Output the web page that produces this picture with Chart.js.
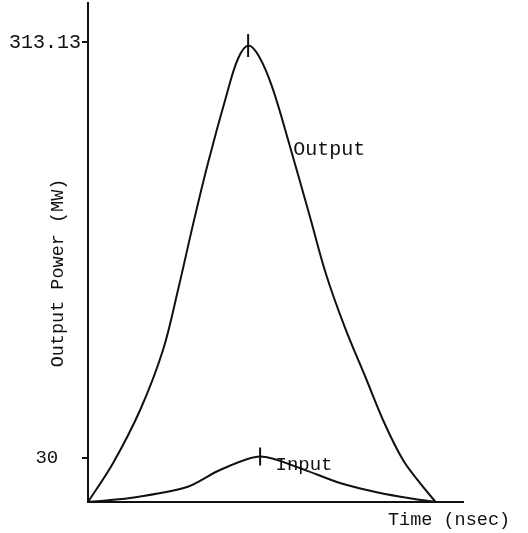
<!DOCTYPE html>
<html>
<head>
<meta charset="utf-8">
<script src="https://cdn.jsdelivr.net/npm/chart.js@4/dist/chart.umd.min.js"></script>
<style>
  html, body { margin: 0; padding: 0; background: #fff; }
  #wrap { width: 528px; height: 533px; }
</style>
</head>
<body>
<div id="wrap"><canvas id="c" width="528" height="533"></canvas></div>
<script>
// ---- data (time in arbitrary units, power in MW) ----
const outputTime  = [0, 0.67, 1.39, 2.0, 2.4, 2.8, 3.2, 3.71, 4.0, 4.27, 4.55, 4.91, 5.39, 5.92, 6.35, 6.85, 7.4, 7.9, 8.4, 8.85, 9.27];
const outputPower = [0, 26.6, 62.7, 103.6, 144.5, 189.0, 231.0, 278.7, 302.0, 311.0, 304.0, 282.8, 241.9, 194.2, 155.0, 119.0, 85.0, 54.0, 28.6, 13.0, 0];
const inputTime   = [0, 1.12, 2.64, 3.52, 4.59, 5.65, 6.72, 7.79, 8.67, 9.27];
const inputPower  = [0, 2.7, 10.2, 21.8, 31.0, 23.1, 12.9, 6.1, 2.2, 0];
const yTickValues = [30, 313.13];
const yTickLabels = ['30', '313.13'];
const seriesNames = ['Output', 'Input'];
const axisTitles  = { x: 'Time (nsec)', y: 'Output Power (MW)' };

// ---- build ----
const INK = '#111';
const MONO = '"Liberation Mono", "DejaVu Sans Mono", monospace';
const toXY = (xs, ys) => xs.map((x, i) => ({ x, y: ys[i] }));
const peakOf = (xs, ys) => { const i = ys.indexOf(Math.max(...ys)); return { x: xs[i], y: ys[i] }; };

const labelPlugin = {
  id: 'labels',
  afterDraw(chart) {
    const { ctx, chartArea, scales } = chart;
    const xs = scales.x, ys = scales.y;
    ctx.save();
    ctx.fillStyle = INK;
    ctx.textBaseline = 'middle';
    // series labels
    ctx.textAlign = 'left';
    ctx.font = '20px ' + MONO;
    ctx.fillText(seriesNames[0], xs.getPixelForValue(5.47), ys.getPixelForValue(240));
    ctx.font = '19px ' + MONO;
    ctx.fillText(seriesNames[1], xs.getPixelForValue(5.0), ys.getPixelForValue(25));
    // x axis title
    ctx.font = '18.5px ' + MONO;
    ctx.fillText(axisTitles.x, chartArea.right - 75, chartArea.bottom + 18);
    // y axis title
    ctx.translate(58, 273);
    ctx.rotate(-Math.PI / 2);
    ctx.textAlign = 'center';
    ctx.fillText(axisTitles.y, 0, 0);
    ctx.restore();
  }
};

new Chart(document.getElementById('c'), {
  type: 'scatter',
  data: {
    datasets: [
      {
        label: seriesNames[0],
        data: toXY(outputTime, outputPower),
        showLine: true,
        borderColor: INK,
        borderWidth: 2,
        pointRadius: 0,
        tension: 0.35
      },
      {
        label: seriesNames[1],
        data: toXY(inputTime, inputPower),
        showLine: true,
        borderColor: INK,
        borderWidth: 2,
        pointRadius: 0,
        tension: 0.3
      },
      {
        label: 'peaks',
        data: [peakOf(outputTime, outputPower), peakOf(inputTime, inputPower)],
        showLine: false,
        pointStyle: 'line',
        rotation: 90,
        pointRadius: [11.5, 9],
        borderColor: INK,
        borderWidth: 2,
        clip: false
      }
    ]
  },
  options: {
    responsive: false,
    animation: false,
    layout: { autoPadding: false, padding: { top: 3, right: 65, left: 0, bottom: 0 } },
    plugins: { legend: { display: false }, tooltip: { enabled: false } },
    scales: {
      x: {
        type: 'linear',
        min: 0,
        max: 10,
        grid: { display: false },
        ticks: { display: false },
        border: { display: true, color: INK, width: 2 },
        afterFit(scale) { scale.height = 31; scale.paddingLeft = 0; scale.paddingRight = 0; }
      },
      y: {
        type: 'linear',
        min: 0,
        max: 340,
        afterBuildTicks(scale) { scale.ticks = yTickValues.map(v => ({ value: v })); },
        ticks: {
          padding: 1,
          color: INK,
          font: (c) => ({ family: MONO, size: (c.tick && c.tick.value === 30) ? 19 : 20 }),
          callback: (v) => {
            const i = yTickValues.indexOf(v);
            const t = i >= 0 ? yTickLabels[i] : '';
            return v === 30 ? t + '  ' : t;
          }
        },
        grid: { drawOnChartArea: false, drawTicks: true, tickLength: 6, color: INK, lineWidth: 2 },
        border: { display: true, color: INK, width: 2 },
        afterFit(scale) { scale.width = 88; scale.paddingTop = 0; scale.paddingBottom = 0; }
      }
    }
  },
  plugins: [labelPlugin]
});
</script>
</body>
</html>
